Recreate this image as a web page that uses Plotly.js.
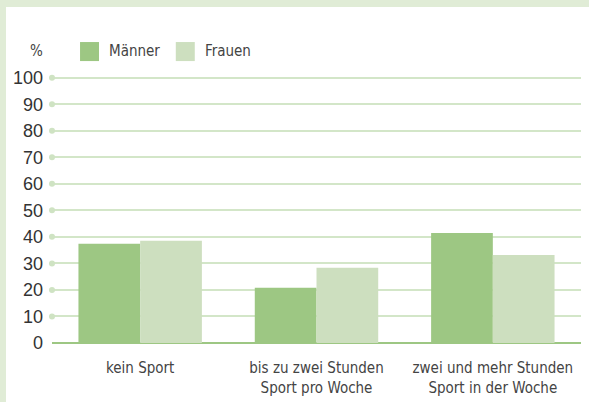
<!DOCTYPE html>
<html>
<head>
<meta charset="utf-8">
<script src="https://cdn.plot.ly/plotly-3.0.1.min.js"></script>
<style>
html,body{margin:0;padding:0;background:#ffffff;}
#frame{position:absolute;left:0;top:0;width:583px;height:395px;border-top:7px solid #e0ecd6;border-left:6px solid #e0ecd6;background:#fff;}
#chart{width:583px;height:395px;}
</style>
</head>
<body>
<div id="frame"><div id="chart"></div></div>
<script>
var categories = ["kein Sport", "bis zu zwei Stunden<br>Sport pro Woche", "zwei und mehr Stunden<br>Sport in der Woche"];
var maenner = [37.4, 20.8, 41.5];
var frauen = [38.5, 28.4, 33.2];
var tickVals = [0, 10, 20, 30, 40, 50, 60, 70, 80, 90, 100];
var seriesNames = ["Männer", "Frauen"];
var colors = ["#9dc783", "#cddfbf"];

var narrow = "'DejaVu Sans Condensed', 'Roboto', sans-serif";

var traces = [
  {type: "bar", x: categories, y: maenner, name: seriesNames[0], marker: {color: colors[0]}, showlegend: false, hoverinfo: "none"},
  {type: "bar", x: categories, y: frauen, name: seriesNames[1], marker: {color: colors[1]}, showlegend: false, hoverinfo: "none"},
  {type: "scatter", mode: "markers", xaxis: "x2", yaxis: "y",
   x: tickVals.slice(1).map(function(){return 0;}), y: tickVals.slice(1),
   marker: {size: 6, color: "#cfe3c3"}, cliponaxis: false, showlegend: false, hoverinfo: "none"}
];

// legend built from the series names
var legX0 = [0.053, 0.234];
var shapes = [], annotations = [];
seriesNames.forEach(function(n, i){
  shapes.push({type: "rect", xref: "paper", yref: "paper", x0: legX0[i], x1: legX0[i] + 0.0359, y0: 1.052, y1: 1.123, fillcolor: colors[i], line: {width: 0}});
  annotations.push({xref: "paper", yref: "paper", x: legX0[i] + 0.051, y: 1.088, xanchor: "left", yanchor: "middle", text: n, showarrow: false, font: {family: narrow, size: 15, color: "#444"}});
});
annotations.push({xref: "paper", yref: "paper", x: -0.0285, y: 1.088, xanchor: "center", yanchor: "middle", text: "%", showarrow: false, font: {family: narrow, size: 15, color: "#444"}});

var layout = {
  width: 583, height: 395,
  margin: {l: 46, r: 8, t: 68, b: 59},
  paper_bgcolor: "#ffffff", plot_bgcolor: "#ffffff",
  barmode: "group", bargap: 0.30, bargroupgap: 0,
  showlegend: false,
  xaxis: {type: "category", showgrid: false, zeroline: false, showline: false, ticks: "", ticklabelstandoff: 14,
          tickfont: {family: narrow, size: 15, color: "#444"}, fixedrange: true},
  xaxis2: {overlaying: "x", range: [0, 1], visible: false, fixedrange: true},
  yaxis: {range: [0, 101], tickvals: tickVals, ticktext: tickVals.map(String), showgrid: true,
          gridcolor: "#d3e6c8", gridwidth: 2, zeroline: true, zerolinecolor: "#9dc783", zerolinewidth: 2,
          showline: false, ticks: "", ticklabelstandoff: 8,
          tickfont: {family: "'Liberation Sans', Arial, sans-serif", size: 18, color: "#333"}, fixedrange: true},
  shapes: shapes,
  annotations: annotations
};

Plotly.newPlot("chart", traces, layout, {displayModeBar: false, staticPlot: true});
</script>
</body>
</html>
